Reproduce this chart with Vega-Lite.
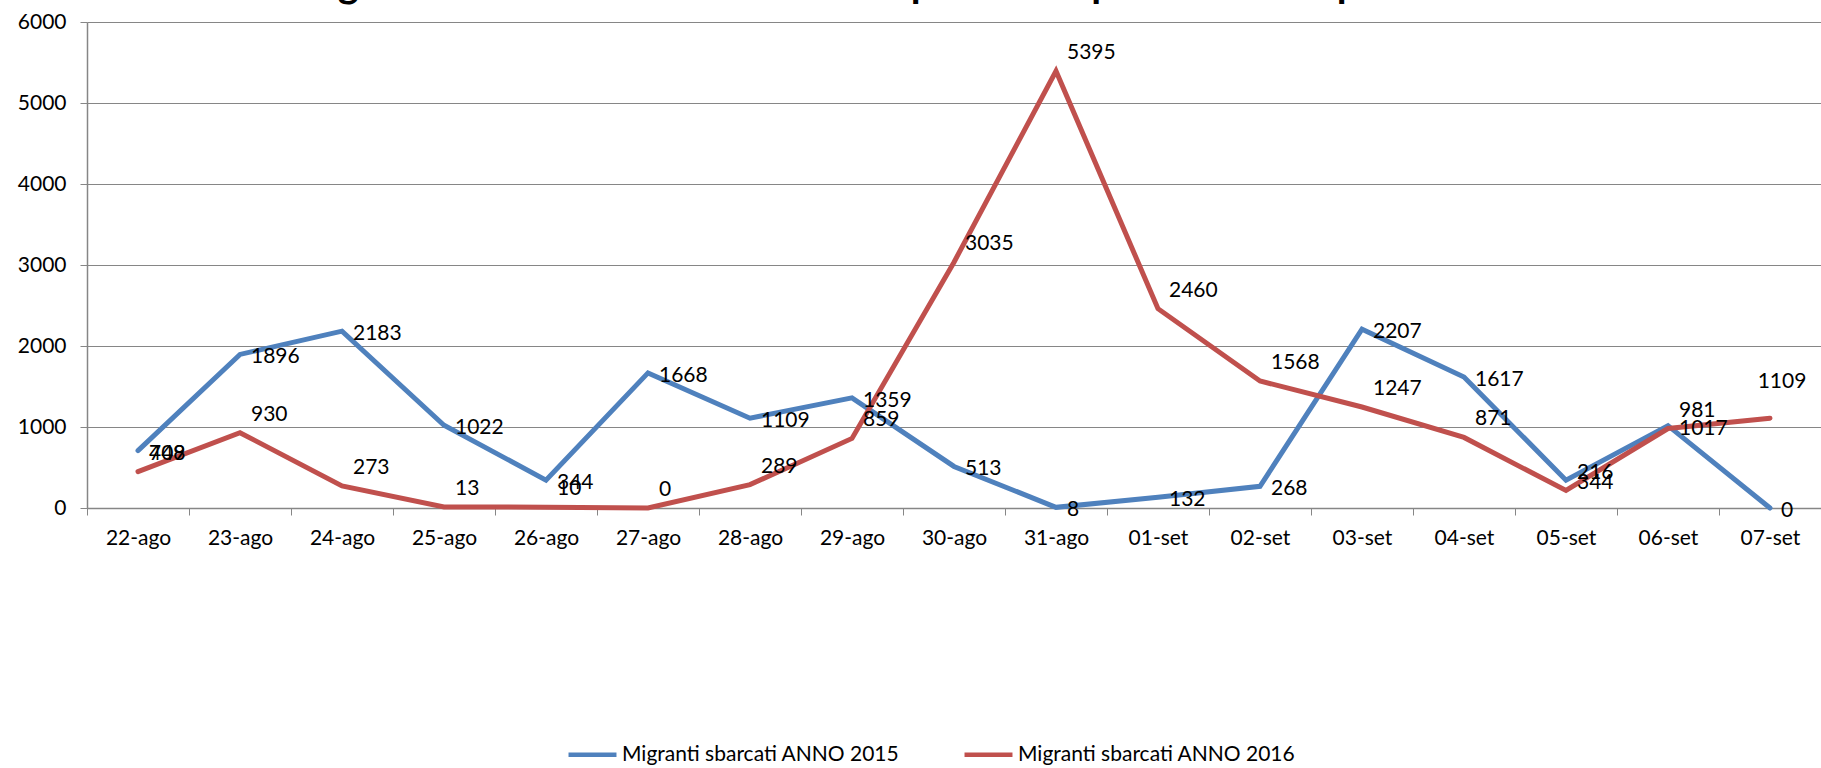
{
  "$schema": "https://vega.github.io/schema/vega-lite/v6.json",
  "width": 1734,
  "height": 486,
  "autosize": {"type": "none"},
  "padding": {"top": 22, "left": 87, "right": 0, "bottom": 260},
  "background": "white",
  "config": {
    "font": "Lato",
    "view": {"stroke": null}
  },
  "title": {
    "text": "Migranti sbarcati - confronto corrispondente periodo anno precedente",
    "font": "Lato",
    "fontSize": 40,
    "fontWeight": "bold",
    "color": "#000000",
    "anchor": "middle",
    "baseline": "alphabetic",
    "offset": -26,
    "dx": -40
  },
  "data": {
    "values": [
      {"giorno": "22-ago", "serie": "Migranti sbarcati ANNO 2015", "valore": 708},
      {"giorno": "23-ago", "serie": "Migranti sbarcati ANNO 2015", "valore": 1896},
      {"giorno": "24-ago", "serie": "Migranti sbarcati ANNO 2015", "valore": 2183},
      {"giorno": "25-ago", "serie": "Migranti sbarcati ANNO 2015", "valore": 1022},
      {"giorno": "26-ago", "serie": "Migranti sbarcati ANNO 2015", "valore": 344},
      {"giorno": "27-ago", "serie": "Migranti sbarcati ANNO 2015", "valore": 1668},
      {"giorno": "28-ago", "serie": "Migranti sbarcati ANNO 2015", "valore": 1109},
      {"giorno": "29-ago", "serie": "Migranti sbarcati ANNO 2015", "valore": 1359},
      {"giorno": "30-ago", "serie": "Migranti sbarcati ANNO 2015", "valore": 513},
      {"giorno": "31-ago", "serie": "Migranti sbarcati ANNO 2015", "valore": 8},
      {"giorno": "01-set", "serie": "Migranti sbarcati ANNO 2015", "valore": 132},
      {"giorno": "02-set", "serie": "Migranti sbarcati ANNO 2015", "valore": 268},
      {"giorno": "03-set", "serie": "Migranti sbarcati ANNO 2015", "valore": 2207},
      {"giorno": "04-set", "serie": "Migranti sbarcati ANNO 2015", "valore": 1617},
      {"giorno": "05-set", "serie": "Migranti sbarcati ANNO 2015", "valore": 344},
      {"giorno": "06-set", "serie": "Migranti sbarcati ANNO 2015", "valore": 1017},
      {"giorno": "07-set", "serie": "Migranti sbarcati ANNO 2015", "valore": 0},
      {"giorno": "22-ago", "serie": "Migranti sbarcati ANNO 2016", "valore": 449},
      {"giorno": "23-ago", "serie": "Migranti sbarcati ANNO 2016", "valore": 930},
      {"giorno": "24-ago", "serie": "Migranti sbarcati ANNO 2016", "valore": 273},
      {"giorno": "25-ago", "serie": "Migranti sbarcati ANNO 2016", "valore": 13},
      {"giorno": "26-ago", "serie": "Migranti sbarcati ANNO 2016", "valore": 10},
      {"giorno": "27-ago", "serie": "Migranti sbarcati ANNO 2016", "valore": 0},
      {"giorno": "28-ago", "serie": "Migranti sbarcati ANNO 2016", "valore": 289},
      {"giorno": "29-ago", "serie": "Migranti sbarcati ANNO 2016", "valore": 859},
      {"giorno": "30-ago", "serie": "Migranti sbarcati ANNO 2016", "valore": 3035},
      {"giorno": "31-ago", "serie": "Migranti sbarcati ANNO 2016", "valore": 5395},
      {"giorno": "01-set", "serie": "Migranti sbarcati ANNO 2016", "valore": 2460},
      {"giorno": "02-set", "serie": "Migranti sbarcati ANNO 2016", "valore": 1568},
      {"giorno": "03-set", "serie": "Migranti sbarcati ANNO 2016", "valore": 1247},
      {"giorno": "04-set", "serie": "Migranti sbarcati ANNO 2016", "valore": 871},
      {"giorno": "05-set", "serie": "Migranti sbarcati ANNO 2016", "valore": 216},
      {"giorno": "06-set", "serie": "Migranti sbarcati ANNO 2016", "valore": 981},
      {"giorno": "07-set", "serie": "Migranti sbarcati ANNO 2016", "valore": 1109}
    ]
  },
  "encoding": {
    "x": {
      "field": "giorno",
      "type": "ordinal",
      "sort": null,
      "bandPosition": 0.5,
      "scale": {"type": "band", "paddingInner": 0, "paddingOuter": 0},
      "axis": {
        "title": null,
        "labelAngle": 0,
        "labelFont": "Lato",
        "labelFontSize": 21,
        "labelColor": "#000000",
        "labelPadding": 12,
        "tickBand": "extent",
        "tickSize": 7,
        "tickColor": "#868686",
        "domainColor": "#868686",
        "domainWidth": 1.5,
        "grid": false
      }
    },
    "y": {
      "field": "valore",
      "type": "quantitative",
      "scale": {"domain": [0, 6000], "nice": false},
      "axis": {
        "title": null,
        "values": [0, 1000, 2000, 3000, 4000, 5000, 6000],
        "format": "d",
        "labelFont": "Lato",
        "labelFontSize": 21,
        "labelColor": "#000000",
        "labelPadding": 14,
        "tickSize": 7,
        "tickColor": "#868686",
        "domainColor": "#868686",
        "domainWidth": 1.5,
        "grid": true,
        "gridColor": "#868686",
        "gridWidth": 1.2
      }
    },
    "color": {
      "field": "serie",
      "type": "nominal",
      "scale": {
        "domain": ["Migranti sbarcati ANNO 2015", "Migranti sbarcati ANNO 2016"],
        "range": ["#4F81BD", "#C0504D"]
      },
      "legend": {
        "title": null,
        "orient": "none",
        "direction": "horizontal",
        "legendX": 479,
        "legendY": 706,
        "symbolType": "stroke",
        "symbolStrokeWidth": 4.5,
        "symbolSize": 2300,
        "labelFont": "Lato",
        "labelFontSize": 21,
        "labelLimit": 0,
        "labelColor": "#000000",
        "labelOffset": 3,
        "columnPadding": 55
      }
    }
  },
  "layer": [
    {
      "mark": {"type": "line", "strokeWidth": 5, "strokeCap": "round", "strokeJoin": "miter"}
    },
    {
      "transform": [{"filter": "datum.serie == 'Migranti sbarcati ANNO 2015'"}],
      "mark": {"type": "text", "align": "left", "baseline": "middle", "dx": 11, "dy": 3, "fontSize": 21, "font": "Lato", "color": "#000000"},
      "encoding": {
        "text": {"field": "valore", "type": "quantitative", "format": "d"},
        "color": {"value": "#000000"}
      }
    },
    {
      "transform": [{"filter": "datum.serie == 'Migranti sbarcati ANNO 2016' && datum.giorno != '07-set'"}],
      "mark": {"type": "text", "align": "left", "baseline": "middle", "dx": 11, "dy": -18, "fontSize": 21, "font": "Lato", "color": "#000000"},
      "encoding": {
        "text": {"field": "valore", "type": "quantitative", "format": "d"},
        "color": {"value": "#000000"}
      }
    },
    {
      "transform": [{"filter": "datum.serie == 'Migranti sbarcati ANNO 2016' && datum.giorno == '07-set'"}],
      "mark": {"type": "text", "align": "center", "baseline": "middle", "dx": 12, "dy": -36, "fontSize": 21, "font": "Lato", "color": "#000000"},
      "encoding": {
        "text": {"field": "valore", "type": "quantitative", "format": "d"},
        "color": {"value": "#000000"}
      }
    }
  ]
}
